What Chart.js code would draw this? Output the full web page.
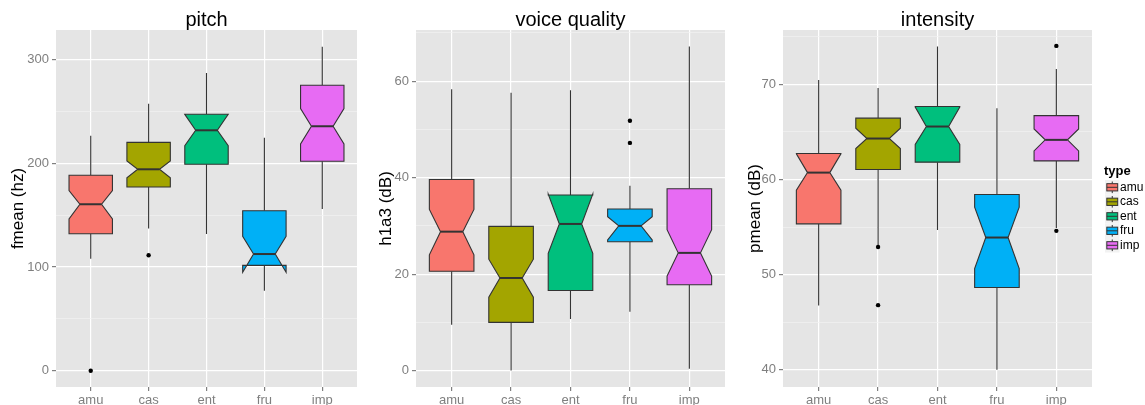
<!DOCTYPE html>
<html lang="en">
<head>
<script src="https://cdn.jsdelivr.net/npm/chart.js/dist/chart.umd.min.js"></script>
<style>
    body { margin: 0; background: #fff; }
    .panel { position: absolute; top: 0; }
</style>
</head>
<body>
<div class="panel" style="left:0"><canvas id="pitch" width="370" height="405"></canvas></div>
<div class="panel" style="left:370px"><canvas id="voice" width="360" height="405"></canvas></div>
<div class="panel" style="left:730px"><canvas id="intensity" width="415" height="405"></canvas></div>

<script>
    const types = ['amu', 'cas', 'ent', 'fru', 'imp'];
    const colors = ['#F8766D', '#A3A500', '#00BF7D', '#00B0F6', '#E76BF3'];

    // pitch: fmean (hz)
    const pitchLow = [108, 137, 131.8, 77.1, 156];
    const pitchQ1 = [132.1, 177.1, 199, 101.6, 201.9];
    const pitchNotchLow = [146.3, 186.1, 217, 94.9, 218.6];
    const pitchMedian = [160.5, 194.2, 231.8, 112.5, 235.7];
    const pitchNotchHigh = [173.6, 202.2, 247.2, 129.6, 252.7];
    const pitchQ3 = [188.4, 220.2, 247.2, 154.3, 275.2];
    const pitchHigh = [226.6, 257.5, 287, 224.7, 312.4];
    const pitchOutliers = [[0], [111.3], [], [], []];
    const pitchTicks = [0, 50, 100, 150, 200, 250, 300];
    const pitchMajor = [0, 100, 200, 300];

    // voice quality: h1a3 (dB)
    const voiceLow = [9.5, 0, 10.7, 12.2, 0.4];
    const voiceQ1 = [20.6, 10.0, 16.6, 26.7, 17.8];
    const voiceNotchLow = [24.0, 15.2, 24.3, 27.1, 19.6];
    const voiceMedian = [28.8, 19.2, 30.4, 30.0, 24.4];
    const voiceNotchHigh = [33.4, 23.1, 36.6, 31.9, 29.2];
    const voiceQ3 = [39.6, 29.9, 36.4, 33.5, 37.7];
    const voiceHigh = [58.3, 57.6, 58.1, 38.3, 67.2];
    const voiceOutliers = [[], [], [], [51.8, 47.2], []];
    const voiceTicks = [0, 10, 20, 30, 40, 50, 60, 70];
    const voiceMajor = [0, 20, 40, 60];

    // intensity: pmean (dB)
    const intLow = [46.75, 53.0, 54.7, 40.0, 54.9];
    const intQ1 = [55.34, 61.04, 61.82, 48.65, 61.95];
    const intNotchLow = [58.87, 63.25, 63.67, 50.64, 63.0];
    const intMedian = [60.72, 64.30, 65.56, 53.9, 64.16];
    const intNotchHigh = [62.7, 65.39, 67.6, 57.09, 65.31];
    const intQ3 = [62.72, 66.44, 67.66, 58.42, 66.71];
    const intHigh = [70.46, 69.6, 73.96, 67.48, 71.6];
    const intOutliers = [[], [52.9, 46.8], [], [], [74.03, 54.6]];
    const intTicks = [40, 45, 50, 55, 60, 65, 70, 75];
    const intMajor = [40, 50, 60, 70];

    const FONT = '"Liberation Sans", Arial, sans-serif';
    Chart.defaults.font.family = FONT;

    const panelBg = {
        id: 'panelBg',
        beforeDraw(chart) {
            const a = chart.chartArea, c = chart.ctx;
            c.save();
            c.fillStyle = '#E5E5E5';
            c.fillRect(a.left, a.top, a.right - a.left, a.bottom - a.top);
            c.restore();
        }
    };

    function boxPlugin(s) {
        return {
            id: 'boxes',
            beforeDatasetsDraw(chart) {
                const x = chart.scales.x, y = chart.scales.y, c = chart.ctx;
                const py = v => y.getPixelForValue(v);
                c.save();
                for (let i = 0; i < types.length; i++) {
                    const xc = x.getPixelForValue(i);
                    const x0 = x.getPixelForValue(i - 0.375);
                    const x1 = x.getPixelForValue(i + 0.375);
                    const ind = (x1 - x0) * 0.25;

                    c.strokeStyle = '#333333';
                    c.lineWidth = 1.1;
                    c.beginPath();
                    c.moveTo(xc, py(s.q3[i])); c.lineTo(xc, py(s.high[i]));
                    c.moveTo(xc, py(s.q1[i])); c.lineTo(xc, py(s.low[i]));
                    c.stroke();

                    c.beginPath();
                    c.moveTo(x0, py(s.q3[i]));
                    c.lineTo(x0, py(s.nhigh[i]));
                    c.lineTo(x0 + ind, py(s.med[i]));
                    c.lineTo(x0, py(s.nlow[i]));
                    c.lineTo(x0, py(s.q1[i]));
                    c.lineTo(x1, py(s.q1[i]));
                    c.lineTo(x1, py(s.nlow[i]));
                    c.lineTo(x1 - ind, py(s.med[i]));
                    c.lineTo(x1, py(s.nhigh[i]));
                    c.lineTo(x1, py(s.q3[i]));
                    c.closePath();
                    c.fillStyle = colors[i];
                    c.fill();
                    c.stroke();

                    c.lineWidth = 2;
                    c.beginPath();
                    c.moveTo(x0 + ind, py(s.med[i]));
                    c.lineTo(x1 - ind, py(s.med[i]));
                    c.stroke();
                }
                c.restore();
            }
        };
    }

    const legendPlugin = {
        id: 'typeLegend',
        afterDraw(chart) {
            const c = chart.ctx;
            c.save();
            c.textBaseline = 'middle';
            c.fillStyle = '#000';
            c.font = 'bold 13px ' + FONT;
            c.fillText('type', 374, 171);
            const k = 14.5;
            types.forEach(function(t, i) {
                const yc = 187.3 + i * k;
                const left = 375;
                c.fillStyle = '#F2F2F2';
                c.fillRect(left, yc - k / 2, k, k);
                c.strokeStyle = '#333333';
                c.lineWidth = 1;
                c.beginPath();
                c.moveTo(left + k / 2, yc - k * 0.4); c.lineTo(left + k / 2, yc - k * 0.25);
                c.moveTo(left + k / 2, yc + k * 0.25); c.lineTo(left + k / 2, yc + k * 0.4);
                c.stroke();
                c.fillStyle = colors[i];
                c.fillRect(left + k * 0.125, yc - k * 0.25, k * 0.75, k * 0.5);
                c.strokeRect(left + k * 0.125, yc - k * 0.25, k * 0.75, k * 0.5);
                c.beginPath();
                c.moveTo(left + k * 0.125, yc); c.lineTo(left + k * 0.875, yc);
                c.stroke();
                c.fillStyle = '#000';
                c.font = '12px ' + FONT;
                c.fillText(t, 390, yc);
            });
            c.restore();
        }
    };

    function outlierPoints(outliers) {
        const pts = [];
        outliers.forEach(function(arr, i) {
            arr.forEach(function(v) { pts.push({x: i, y: v}); });
        });
        return pts;
    }

    function makeChart(id, opts) {
        const isMajor = ctx => ctx.tick && opts.major.includes(ctx.tick.value);
        const plugins = [panelBg, boxPlugin(opts.stats)];
        if (opts.legend) plugins.push(legendPlugin);
        return new Chart(document.getElementById(id), {
            type: 'scatter',
            data: {
                datasets: [{
                    data: outlierPoints(opts.outliers),
                    pointRadius: 2.2,
                    pointBackgroundColor: '#000',
                    pointBorderWidth: 0,
                    showLine: false
                }]
            },
            options: {
                responsive: false,
                animation: false,
                devicePixelRatio: 1,
                layout: {padding: {left: 0, right: opts.right, top: 0, bottom: 0}},
                plugins: {
                    legend: {display: false},
                    tooltip: {enabled: false},
                    title: {
                        display: true,
                        text: opts.title,
                        fullSize: false,
                        color: '#000',
                        font: {size: 20, weight: 'normal', lineHeight: 1},
                        padding: {top: 10, bottom: 0}
                    }
                },
                scales: {
                    x: {
                        type: 'linear',
                        min: -0.6,
                        max: 4.6,
                        afterBuildTicks: s => { s.ticks = types.map((t, i) => ({value: i})); },
                        afterFit: s => { s.height = 18; },
                        ticks: {
                            autoSkip: false,
                            maxRotation: 0,
                            color: '#7F7F7F',
                            font: {size: 13},
                            padding: 2,
                            callback: v => types[v]
                        },
                        grid: {color: '#FFFFFF', lineWidth: 1.2, tickLength: 4, tickColor: '#7F7F7F'},
                        border: {display: false}
                    },
                    y: {
                        type: 'linear',
                        min: opts.min,
                        max: opts.max,
                        afterBuildTicks: s => { s.ticks = opts.ticks.map(v => ({value: v})); },
                        afterFit: s => { s.width = opts.axisWidth; },
                        ticks: {
                            autoSkip: false,
                            color: '#7F7F7F',
                            font: {size: 13},
                            padding: 3,
                            callback: v => opts.major.includes(v) ? String(v) : ''
                        },
                        grid: {
                            color: ctx => isMajor(ctx) ? '#FFFFFF' : '#F2F2F2',
                            lineWidth: ctx => isMajor(ctx) ? 1.2 : 0.7,
                            tickLength: 4,
                            tickColor: ctx => isMajor(ctx) ? '#7F7F7F' : 'rgba(0,0,0,0)'
                        },
                        border: {display: false},
                        title: {
                            display: true,
                            text: opts.yTitle,
                            color: '#000',
                            font: {size: 17},
                            padding: {top: opts.titlePad, bottom: 0}
                        }
                    }
                }
            },
            plugins: plugins
        });
    }

    makeChart('pitch', {
        title: 'pitch', yTitle: 'fmean (hz)',
        min: -15.7, max: 328.5, ticks: pitchTicks, major: pitchMajor,
        axisWidth: 56, right: 13, titlePad: 7.8,
        outliers: pitchOutliers,
        stats: {low: pitchLow, q1: pitchQ1, nlow: pitchNotchLow, med: pitchMedian,
                nhigh: pitchNotchHigh, q3: pitchQ3, high: pitchHigh}
    });

    makeChart('voice', {
        title: 'voice quality', yTitle: 'h1a3 (dB)',
        min: -3.4, max: 70.6, ticks: voiceTicks, major: voiceMajor,
        axisWidth: 46, right: 5, titlePad: 6.5,
        outliers: voiceOutliers,
        stats: {low: voiceLow, q1: voiceQ1, nlow: voiceNotchLow, med: voiceMedian,
                nhigh: voiceNotchHigh, q3: voiceQ3, high: voiceHigh}
    });

    makeChart('intensity', {
        title: 'intensity', yTitle: 'pmean (dB)',
        min: 38.2, max: 75.7, ticks: intTicks, major: intMajor,
        axisWidth: 53, right: 53, titlePad: 14.8,
        outliers: intOutliers, legend: true,
        stats: {low: intLow, q1: intQ1, nlow: intNotchLow, med: intMedian,
                nhigh: intNotchHigh, q3: intQ3, high: intHigh}
    });
</script>
</body>
</html>
